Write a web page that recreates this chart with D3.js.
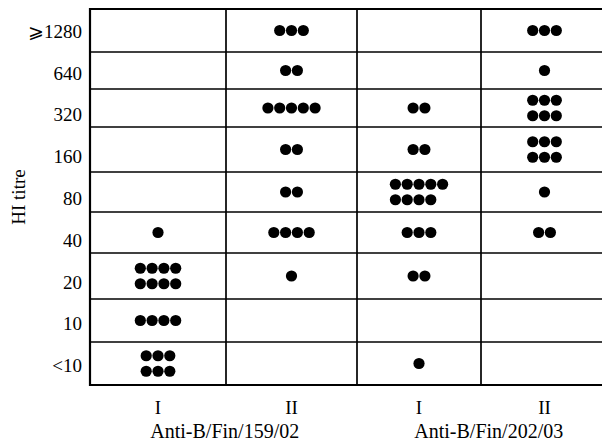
<!DOCTYPE html>
<html>
<head>
<meta charset="utf-8">
<script src="https://cdn.jsdelivr.net/npm/d3@7"></script>
<style>
  html, body { margin: 0; padding: 0; background: #fff; }
  svg { display: block; }
  text { font-family: "Liberation Serif", "Times New Roman", serif; fill: #000; }
</style>
</head>
<body>
<svg id="chart" width="602" height="444"></svg>
<script>
// ---------- DATA ----------
const titres = ["\u2A7E1280", "640", "320", "160", "80", "40", "20", "10", "<10"];
const columnLabels = ["I", "II", "I", "II"];
const groupLabels = ["Anti-B/Fin/159/02", "Anti-B/Fin/202/03"];
// number of animals per HI titre (rows top to bottom)
const fin159_I  = [0, 0, 0, 0, 0, 1, 8, 4, 6];
const fin159_II = [3, 2, 5, 2, 2, 4, 1, 0, 0];
const fin202_I  = [0, 0, 2, 2, 9, 3, 2, 0, 1];
const fin202_II = [3, 1, 6, 6, 1, 2, 0, 0, 0];
const seriesList = [fin159_I, fin159_II, fin202_I, fin202_II];
const groupOfColumn = [0, 0, 1, 1];
const yTitle = "HI titre";

// ---------- LAYOUT ----------
const fontSize = 19;
const groupFontSize = 20;
const colEdges = [90, 226, 357, 481, 608];
const rowEdges = [9, 52, 89, 127, 172, 212, 253, 299, 342, 385];
const dotR = 5.6, dotDx = 11.8, dotDy = 15.5;

const svg = d3.select("#chart");

// scale for grid cells (hand-drawn, unequal)
const xEdge = d3.scaleLinear().domain(d3.range(colEdges.length)).range(colEdges);
const yEdge = d3.scaleLinear().domain(d3.range(rowEdges.length)).range(rowEdges);
const xCenter = i => (xEdge(i) + xEdge(i + 1)) / 2;
const yCenter = i => (yEdge(i) + yEdge(i + 1)) / 2;

// uniform band scale for the tick labels
const yBand = d3.scaleBand().domain(titres).range([rowEdges[0], rowEdges[rowEdges.length - 1]]);

// grid lines
const grid = svg.append("g").attr("stroke", "#000");
rowEdges.forEach((_, i) => {
  if (i === 0 || i === rowEdges.length - 1) return;
  grid.append("line")
    .attr("x1", xEdge(0)).attr("x2", 602)
    .attr("y1", yEdge(i)).attr("y2", yEdge(i))
    .attr("stroke-width", 1.7);
});
colEdges.forEach((_, i) => {
  if (i === 0 || i === colEdges.length - 1) return;
  grid.append("line")
    .attr("x1", xEdge(i)).attr("x2", xEdge(i))
    .attr("y1", yEdge(0)).attr("y2", yEdge(rowEdges.length - 1))
    .attr("stroke-width", 1.7);
});
// frame (top, left, bottom)
grid.append("line").attr("x1", xEdge(0)).attr("x2", 602)
  .attr("y1", yEdge(0)).attr("y2", yEdge(0)).attr("stroke-width", 1.8);
grid.append("line").attr("x1", xEdge(0)).attr("x2", 602)
  .attr("y1", yEdge(9)).attr("y2", yEdge(9)).attr("stroke-width", 2.2);
grid.append("line").attr("x1", xEdge(0)).attr("x2", xEdge(0))
  .attr("y1", yEdge(0) - 1).attr("y2", yEdge(9) + 1).attr("stroke-width", 2.2);

// dots
const dots = [];
seriesList.forEach((vals, c) => {
  vals.forEach((n, r) => {
    if (!n) return;
    const lines = n > 5 ? 2 : 1;
    const perLine = Math.ceil(n / lines);
    for (let k = 0; k < n; k++) {
      const line = Math.floor(k / perLine);
      const idx = k % perLine;
      dots.push({
        x: xCenter(c) + (idx - (perLine - 1) / 2) * dotDx,
        y: yCenter(r) + (line - (lines - 1) / 2) * dotDy
      });
    }
  });
});
svg.append("g").selectAll("circle").data(dots).join("circle")
  .attr("cx", d => d.x).attr("cy", d => d.y).attr("r", dotR).attr("fill", "#000");

// y axis tick labels
const yAxis = d3.axisLeft(yBand).tickSize(0).tickPadding(8);
const gy = svg.append("g").attr("transform", `translate(${xEdge(0)},0)`).call(yAxis);
gy.select(".domain").remove();
gy.selectAll("text")
  .attr("dy", "0.42em")
  .style("font-family", "\"Liberation Serif\", \"Times New Roman\", serif")
  .style("font-size", fontSize + "px")
  .attr("fill", "#000");

// y title
svg.append("text")
  .attr("transform", `translate(25,197) rotate(-90)`)
  .attr("text-anchor", "middle")
  .style("font-size", fontSize + "px")
  .text(yTitle);

// column labels
svg.append("g").selectAll("text").data(columnLabels).join("text")
  .attr("x", (d, i) => xCenter(i))
  .attr("y", 414)
  .attr("text-anchor", "middle")
  .style("font-size", fontSize + "px")
  .text(d => d);

// group labels
svg.append("g").selectAll("text").data(groupLabels).join("text")
  .attr("x", (d, g) => d3.mean(columnLabels.map((_, i) => i).filter(i => groupOfColumn[i] === g), i => xCenter(i)) + (g === 1 ? 7 : 0))
  .attr("y", 438)
  .attr("text-anchor", "middle")
  .style("font-size", groupFontSize + "px")
  .text(d => d);
</script>
</body>
</html>
